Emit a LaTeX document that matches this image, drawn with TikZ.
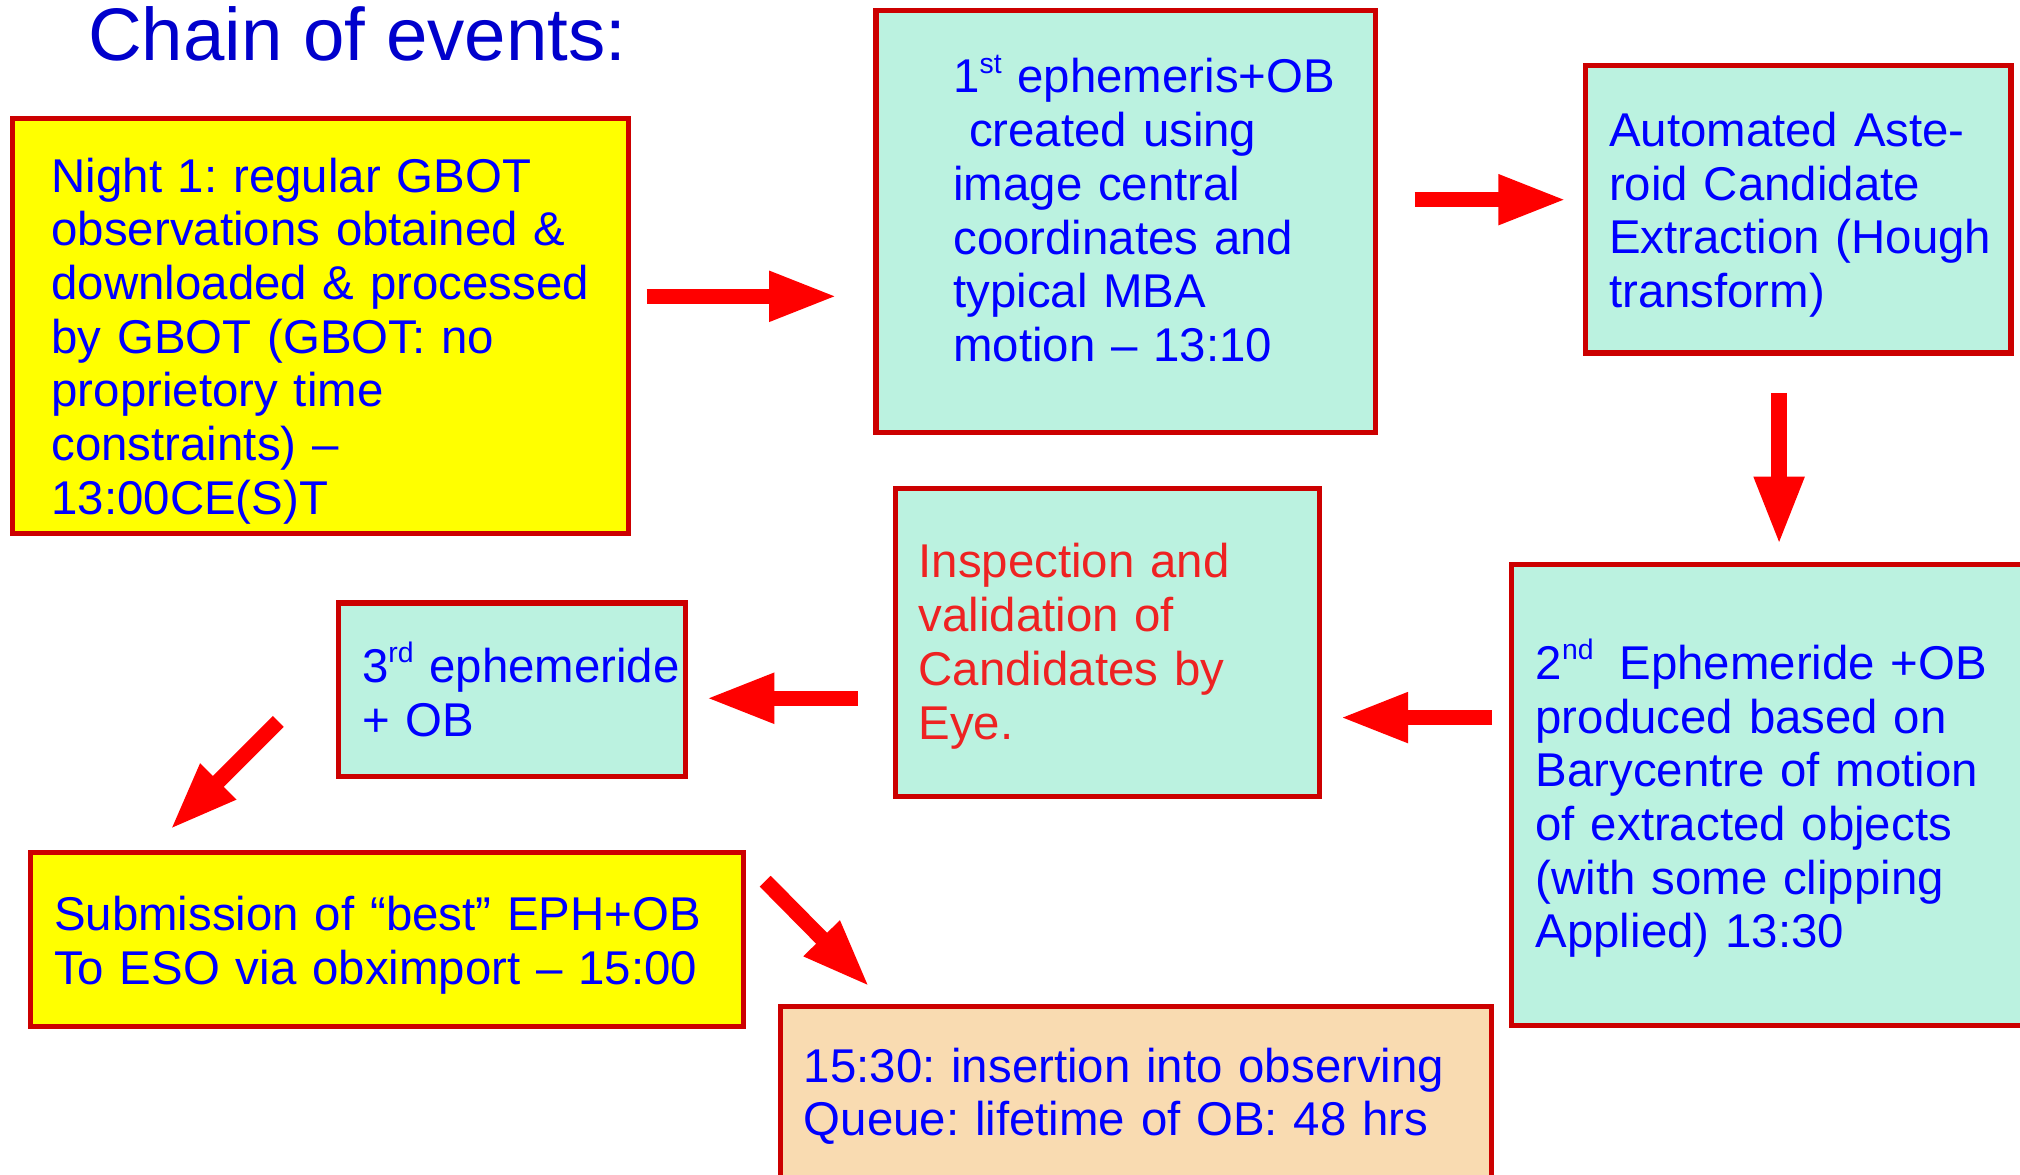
\documentclass[tikz,border=0pt]{standalone}
\usepackage{fontspec}
\setmainfont{Liberation Sans}
\usetikzlibrary{arrows.meta}
\definecolor{bord}{HTML}{CC0000}
\definecolor{mint}{HTML}{BBF2E0}
\definecolor{peach}{HTML}{F9DBB1}
\definecolor{yel}{HTML}{FFFF00}
\definecolor{txtblue}{HTML}{0000FF}
\definecolor{titleblue}{HTML}{0000CC}
\definecolor{txtred}{HTML}{EE2222}
\definecolor{arrred}{HTML}{FF0000}
\newcommand\supr[1]{\smash{\raisebox{0.42em}{\fontsize{11}{11}\selectfont #1}}}
\frenchspacing
\begin{document}
\begin{tikzpicture}[x=0.5pt,y=-0.5pt,
  evbox/.style={draw=bord, line width=2pt, rectangle, align=left, text=txtblue,
    font=\fontsize{18.4}{20.85}\selectfont\frenchspacing, inner ysep=0pt, outer sep=0pt},
  bigarrow/.style={draw=arrred, line width=6pt, -{Triangle[length=26.5pt,width=18pt]}}]
\useasboundingbox (0,0) rectangle (1568,912);
\fill[white] (0,0) rectangle (1568,912);
\clip (0,0) rectangle (1568,912);

\node[anchor=base west, text=titleblue, font=\fontsize{28.9}{34}\selectfont, inner sep=0pt] (title) at (68,47) {Chain of events:};

\node[evbox, fill=yel, minimum width=239pt, minimum height=161pt, inner xsep=15pt, text width=209pt] (n1) at (249,253)
  {\rule{0pt}{25pt}\mbox{Night 1: regular GBOT}\\ \mbox{observations obtained \&}\\ \mbox{downloaded \& processed}\\ \mbox{by GBOT (GBOT: no}\\ \mbox{proprietory time}\\ \mbox{constraints) –}\\ \mbox{13:00CE(S)T}};

\node[evbox, fill=mint, minimum width=194pt, minimum height=164pt, inner xsep=30pt, text width=134pt] (n2) at (874,172)
  {\rule{0pt}{14.4pt}\mbox{1\supr{st} ephemeris+OB}\\ \mbox{\ created using}\\ \mbox{image central}\\ \mbox{coordinates and}\\ \mbox{typical MBA}\\ \mbox{motion – 13:10}\rule[-10pt]{0pt}{0pt}};

\node[evbox, fill=mint, minimum width=165pt, minimum height=111.5pt, inner xsep=9pt, text width=147pt] (n3) at (1396,162.5)
  {\rule{0pt}{17.4pt}\mbox{Automated Aste-}\\ \mbox{roid Candidate}\\ \mbox{Extraction (Hough}\\ \mbox{transform)}};

\node[evbox, fill=mint, minimum width=223.5pt, minimum height=179pt, inner xsep=9.5pt, text width=204.5pt] (n4) at (1396.5,617)
  {\rule{0pt}{18.4pt}\mbox{2\supr{nd}\hspace{0.55em}Ephemeride +OB}\\ \mbox{produced based on}\\ \mbox{Barycentre of motion}\\ \mbox{of extracted objects}\\ \mbox{(with some clipping}\\ \mbox{Applied) 13:30}};

\node[evbox, fill=mint, text=txtred, minimum width=164.5pt, minimum height=119.5pt, inner xsep=9pt, text width=146.5pt] (n5) at (859.5,498.5)
  {\rule{0pt}{16.4pt}\mbox{Inspection and}\\ \mbox{validation of}\\ \mbox{Candidates by}\\ \mbox{Eye.}};

\node[evbox, fill=mint, minimum width=134.5pt, minimum height=67.5pt, inner xsep=9pt, text width=116.5pt] (n6) at (397.5,535.5)
  {\rule{0pt}{15.4pt}\mbox{3\supr{rd} ephemeride}\\ \mbox{+ OB}};

\node[evbox, fill=yel, minimum width=276.5pt, minimum height=67.5pt, inner xsep=9pt, text width=258.5pt] (n7) at (300.5,729.5)
  {\rule{0pt}{17.4pt}\mbox{Submission of “best” EPH+OB}\\ \mbox{To ESO via obximport – 15:00}};

\node[evbox, fill=peach, minimum width=276pt, minimum height=68pt, inner xsep=9pt, text width=258pt] (n8) at (882,849)
  {\rule{0pt}{15.4pt}\mbox{15:30: insertion into observing}\\ \mbox{Queue: lifetime of OB: 48 hrs}};

\draw[bigarrow] ([shift={(14,-23)}]n1.east) -- ([shift={(-30,58)}]n2.west);
\draw[bigarrow] ([shift={(30,-17)}]n2.east) -- ([shift={(-15,-7.5)}]n3.west);
\draw[bigarrow] ([shift={(-15,31)}]n3.south) -- ([shift={(-15.5,-15)}]n4.north);
\draw[bigarrow] ([shift={(-15,-60)}]n4.west) -- ([shift={(16,58.5)}]n5.east);
\draw[bigarrow] ([shift={(-29,43.5)}]n5.west) -- ([shift={(16,6.5)}]n6.east);
\draw[bigarrow] ([shift={(-47,-43)}]n6.south west) -- ([shift={(108,-18)}]n7.north west);
\draw[bigarrow] ([shift={(17,22)}]n7.north east) -- ([shift={(69,-15)}]n8.north west);
\end{tikzpicture}
\end{document}
